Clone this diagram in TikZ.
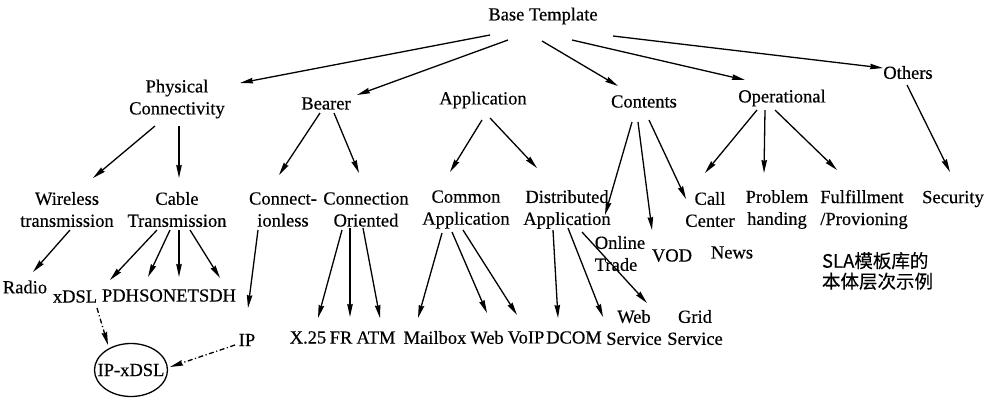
\documentclass[tikz,border=0pt]{standalone}
\usepackage{fontspec}
\setmainfont{Liberation Serif}[FakeBold=0.4]
\newfontfamily\cjk{Noto Sans CJK SC}[FakeBold=0.3]
\usetikzlibrary{arrows.meta,shapes.geometric}
\begin{document}
\begin{tikzpicture}[x=1pt,y=-1pt,
  lbl/.style={inner sep=0pt, outer sep=0pt, font=\fontsize{18.5}{22}\selectfont, align=center},
  lbll/.style={lbl, align=left},
  arr/.style={line width=1.3pt, -{Stealth[length=13pt,width=5.5pt,inset=1pt]}},
  darr/.style={arr, dash pattern=on 5pt off 2.5pt on 1.2pt off 2.5pt}]
\useasboundingbox[fill=white] (0,0) rectangle (991,400);
% level 0 and 1
\node[lbl] (bt) at (543,16) {Base Template};
\node[lbl] (phys) at (177,99) {Physical\\Connectivity};
\node[lbl] (bearer) at (326,103.5) {Bearer};
\node[lbl] (app) at (483,100) {Application};
\node[lbl] (cont) at (644,101.5) {Contents};
\node[lbl] (oper) at (782,98) {Operational};
\node[lbl] (others) at (908,72.5) {Others};
% level 2
\node[lbl] (wire) at (67,209.5) {Wireless\\transmission};
\node[lbl] (cable) at (177,209.5) {Cable\\Transmission};
\node[lbl] (cless) at (283,209.5) {Connect-\\ionless};
\node[lbl] (cori) at (366,209.5) {Connection\\Oriented};
\node[lbl] (common) at (466,209.5) {Common\\Application};
\node[lbl] (dist) at (567,209.5) {Distributed\\Application};
\node[lbl] (call) at (710,209.5) {Call\\Center};
\node[lbl] (prob) at (777,209.5) {Problem\\handing};
\node[lbll] (fulf) at (864,209.5) {Fulfillment\\/Provioning};
\node[lbl] (sec) at (953,199) {Security};
% level 3
\node[lbl] (radio) at (25,287) {Radio};
\node[lbl] (xdsl) at (75,296.5) {xDSL};
\node[lbl] (pdh) at (120.5,295.5) {PDH};
\node[lbl] (sonet) at (169,295.5) {SONET};
\node[lbl] (sdh) at (217.5,295.5) {SDH};
\node[lbl] (ip) at (247,340) {IP};
\node[lbl] (x25) at (308,337.5) {X.25};
\node[lbl] (fr) at (341,337.5) {FR};
\node[lbl] (atm) at (376,337.5) {ATM};
\node[lbl] (mailbox) at (435,337.5) {Mailbox};
\node[lbl] (web) at (487,337.5) {Web};
\node[lbl] (voip) at (526,337.5) {VoIP};
\node[lbl] (dcom) at (574,337.5) {DCOM};
\node[lbl] (websvc) at (634,327.5) {Web\\Service};
\node[lbl] (grid) at (695,327.5) {Grid\\Service};
\node[lbll] (online) at (620,253.5) {Online\\Trade};
\node[lbl] (vod) at (672,255.5) {VOD};
\node[lbl] (news) at (732,252.5) {News};
\node[lbll, font=\cjk\fontsize{18.5}{20.5}\selectfont] (sla) at (877.5,271) {SLA模板库的\\本体层次示例};
\node[ellipse, draw, line width=1.3pt, minimum width=73pt, minimum height=53pt, inner sep=0pt] (ipx) at (131,370) {};
\node[lbl] (ipxt) at (ipx.center) {IP-xDSL};
% connectors
\draw[arr] ([shift={(-53,19)}]bt.center) -- ([shift={(63,-16)}]phys.center);
\draw[arr] ([shift={(-35,24)}]bt.center) -- ([shift={(31,-8.5)}]bearer.center);
\draw[arr] ([shift={(-1,25)}]bt.center) -- ([shift={(-26,-15.5)}]cont.center);
\draw[arr] ([shift={(29,24)}]bt.center) -- ([shift={(-37,-18)}]oper.center);
\draw[arr] ([shift={(70,20)}]bt.center) -- ([shift={(-25,-4.5)}]others.center);
\draw[arr] ([shift={(-22,27)}]phys.center) -- ([shift={(26,-31.5)}]wire.center);
\draw[arr] ([shift={(2,27)}]phys.center) -- ([shift={(2,-31.5)}]cable.center);
\draw[arr] ([shift={(-6,9.5)}]bearer.center) -- ([shift={(-4,-34.5)}]cless.center);
\draw[arr] ([shift={(8,9.5)}]bearer.center) -- ([shift={(-7,-36.5)}]cori.center);
\draw[arr] ([shift={(-1,20)}]app.center) -- ([shift={(-16,-37.5)}]common.center);
\draw[arr] ([shift={(7,18)}]app.center) -- ([shift={(-30,-41.5)}]dist.center);
\draw[arr] ([shift={(-12,20.5)}]cont.center) -- ([shift={(-15,-38.5)}]online.center);
\draw[arr] ([shift={(-6,20.5)}]cont.center) -- ([shift={(-20,-25.5)}]vod.center);
\draw[arr] ([shift={(5,18.5)}]cont.center) -- ([shift={(-24,-10.5)}]call.center);
\draw[arr] ([shift={(-25,12)}]oper.center) -- ([shift={(-5,-36.5)}]call.center);
\draw[arr] ([shift={(-17,12)}]oper.center) -- ([shift={(-13,-36.5)}]prob.center);
\draw[arr] ([shift={(-7,12)}]oper.center) -- ([shift={(-27,-39.5)}]fulf.center);
\draw[arr] ([shift={(-1,12.5)}]others.center) -- ([shift={(-3,-27)}]sec.center);
\draw[arr] ([shift={(3,20.5)}]wire.center) -- ([shift={(8,-15)}]radio.center);
\draw[arr] ([shift={(-20,20.5)}]cable.center) -- ([shift={(35,-16.5)}]xdsl.center);
\draw[arr] ([shift={(-7,20.5)}]cable.center) -- ([shift={(27.5,-18.5)}]pdh.center);
\draw[arr] ([shift={(2,20.5)}]cable.center) -- ([shift={(10,-18.5)}]sonet.center);
\draw[arr] ([shift={(13,20.5)}]cable.center) -- ([shift={(2.5,-17.5)}]sdh.center);
\draw[arr] ([shift={(-25,20.5)}]cless.center) -- ([shift={(1,-32)}]ip.center);
\draw[arr] ([shift={(-24,20.5)}]cori.center) -- ([shift={(10,-19.5)}]x25.center);
\draw[arr] ([shift={(-16,18.5)}]cori.center) -- ([shift={(9,-20.5)}]fr.center);
\draw[arr] ([shift={(-3,18.5)}]cori.center) -- ([shift={(4,-19.5)}]atm.center);
\draw[arr] ([shift={(-24,23.5)}]common.center) -- ([shift={(-17,-19.5)}]mailbox.center);
\draw[arr] ([shift={(-14,22.5)}]common.center) -- ([shift={(0,-24.5)}]web.center);
\draw[arr] ([shift={(-3,20.5)}]common.center) -- ([shift={(-9,-22.5)}]voip.center);
\draw[arr] ([shift={(-14,20.5)}]dist.center) -- ([shift={(-16,-19.5)}]dcom.center);
\draw[arr] ([shift={(1,18.5)}]dist.center) -- ([shift={(-31,-10.5)}]websvc.center);
\draw[arr] ([shift={(15,22.5)}]dist.center) -- ([shift={(13,-24.5)}]websvc.center);
\draw[darr] ([shift={(22,11.5)}]xdsl.center) -- ([shift={(-23,-25)}]ipx.center);
\draw[darr] ([shift={(-12,5)}]ip.center) -- ([shift={(39,-3)}]ipx.center);
\end{tikzpicture}
\end{document}
